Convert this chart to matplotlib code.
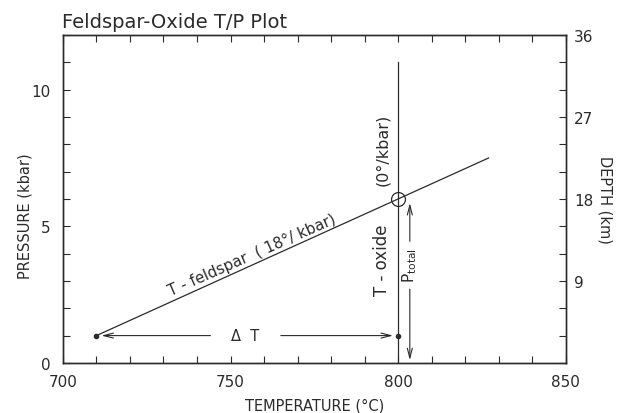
import matplotlib
matplotlib.use("Agg")
import matplotlib.pyplot as plt
from matplotlib.ticker import MultipleLocator, FixedLocator

plt.rcParams['font.family'] = ['DejaVu Sans']

# Data
feldspar_T = [710, 827]          # T-feldspar line (18 deg/kbar)
feldspar_P = [1.0, 1.0 + (827 - 710) / 18.0]
oxide_T = [800, 800]             # T-oxide line (0 deg/kbar)
oxide_P = [0.0, 11.0]
point_T = [710, 800]
point_P = [1.0, 1.0]
cross_T = [800]
cross_P = [6.0]
ptotal_T = 803.5

xlim = (700, 850)
ylim = (0, 12)
depth_lim = (0, 36)
x_major = [700, 750, 800, 850]
y_major = [0, 5, 10]
depth_major = [9, 18, 27, 36]

ink = '#2b2b2b'

fig = plt.figure(figsize=(6.23, 4.14), dpi=100)
ax = fig.add_axes([0.101, 0.121, 0.807, 0.792])

ax.plot(feldspar_T, feldspar_P, color=ink, lw=0.9)
ax.plot(oxide_T, oxide_P, color=ink, lw=0.9)
ax.plot(point_T, point_P, 'o', color=ink, ms=3)
ax.plot(cross_T, cross_P, 'o', mfc='none', mec=ink, ms=10, mew=0.9)

arrow_kw = dict(arrowstyle='->,head_length=0.7,head_width=0.18', color=ink, lw=0.8,
                shrinkA=0, shrinkB=0)
# Delta T arrows
ax.annotate('', xy=(point_T[0] + 1.5, 1.0), xytext=(744, 1.0), arrowprops=arrow_kw)
ax.annotate('', xy=(point_T[1] - 1.5, 1.0), xytext=(765, 1.0), arrowprops=arrow_kw)
ax.text(754.5, 1.0, 'Δ  T', ha='center', va='center', fontsize=10.5, color=ink)

# P total arrows
ax.annotate('', xy=(ptotal_T, 5.85), xytext=(ptotal_T, 4.45), arrowprops=arrow_kw)
ax.annotate('', xy=(ptotal_T, 0.1), xytext=(ptotal_T, 2.7), arrowprops=arrow_kw)
ax.text(ptotal_T, 3.6, r'P$_\mathregular{total}$', rotation=90, ha='center', va='center',
        fontsize=11, color=ink)

# Line labels
ax.text(756.4, 3.95, 'T - feldspar  ( 18°/ kbar)', rotation=23.8, rotation_mode='anchor',
        ha='center', va='center', fontsize=10.8, color=ink)
ax.text(795.3, 3.8, 'T - oxide', rotation=90, ha='center', va='center', fontsize=12, color=ink)
ax.text(795.3, 7.85, '(0°/kbar)', rotation=90, ha='center', va='center', fontsize=11.5, color=ink)

ax.set_xlim(*xlim)
ax.set_ylim(*ylim)
ax.xaxis.set_major_locator(FixedLocator(x_major))
ax.xaxis.set_minor_locator(MultipleLocator(10))
ax.yaxis.set_major_locator(FixedLocator(y_major))
ax.yaxis.set_minor_locator(MultipleLocator(1))
ax.tick_params(which='both', direction='in', length=5, width=0.8, color=ink,
               top=True, right=False, labelsize=11, labelcolor=ink)
ax.tick_params(axis='x', which='major', pad=8)
ax.tick_params(axis='y', which='major', pad=9)
for s in ax.spines.values():
    s.set_color(ink)
    s.set_linewidth(1.0)

ax2 = ax.twinx()
ax2.set_ylim(*depth_lim)
ax2.yaxis.set_major_locator(FixedLocator(depth_major))
ax2.yaxis.set_minor_locator(MultipleLocator(3))
ax2.tick_params(which='both', direction='in', length=5, width=0.8, color=ink,
                labelsize=11, labelcolor=ink, pad=6)
for s in ax2.spines.values():
    s.set_color(ink)
    s.set_linewidth(1.0)

ax.set_xlabel('TEMPERATURE (°C)', fontsize=10.5, color=ink)
ax.xaxis.set_label_coords(0.5, -0.105)
ax.set_ylabel('PRESSURE (kbar)', fontsize=10.5, color=ink)
ax.yaxis.set_label_coords(-0.06, 0.45)
ax2.set_ylabel('DEPTH (km)', fontsize=10.5, color=ink, rotation=-90, labelpad=14)

fig.text(0.1, 0.945, 'Feldspar-Oxide T/P Plot', fontsize=14, color=ink, ha='left', va='center')

fig.savefig('out.png', dpi=100)
